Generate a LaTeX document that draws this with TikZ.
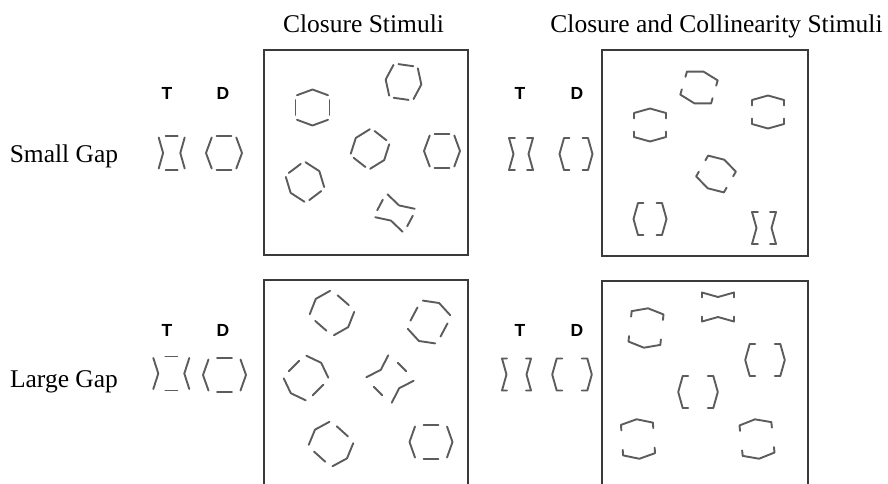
\documentclass[tikz,border=0pt]{standalone}
\usepackage{fontspec}
\setmainfont{Liberation Serif}
\newfontfamily\labelsans{Liberation Sans}

\definecolor{stimgray}{HTML}{5C5C5C}
\definecolor{framegray}{HTML}{3A3A3A}

% closure figure: #1 = x of side ends, #2 = bend of the sides, #3 = half length of top/bottom
\newcommand\closurefig[3]{%
  \draw[stim] (-#3,-17)--(#3,-17);
  \draw[stim] (-#3,17)--(#3,17);
  \draw[stim] (-#1,-15.5)--({-#1-(#2)},0)--(-#1,15.5);
  \draw[stim] (#1,-15.5)--({#1+(#2)},0)--(#1,15.5);
}
% closure + collinearity figure: #1 = corner x, #2 = bend, #3 = serif length
\newcommand\collinfig[3]{%
  \draw[stim] ({-#1+#3},-16)--(-#1,-16)--({-#1-(#2)},0)--(-#1,16)--({-#1+#3},16);
  \draw[stim] ({#1-#3},-16)--(#1,-16)--({#1+(#2)},0)--(#1,16)--({#1-#3},16);
}

\tikzset{
  stim/.style={draw=stimgray, line width=1.9pt, line cap=round, line join=round},
  frame/.style={draw=framegray, line width=1.8pt},
  heading/.style={font=\fontsize{25.5}{28}\selectfont, anchor=base},
  letter/.style={font=\labelsans\bfseries\fontsize{17.5}{19}\selectfont, anchor=base},
  pics/cloTs/.style={code={\closurefig{13}{-4.4}{6}}},
  pics/cloDs/.style={code={\closurefig{12.3}{5.7}{7.5}}},
  pics/cloTl/.style={code={\closurefig{18}{-5}{6}}},
  pics/cloDl/.style={code={\closurefig{16}{5.5}{7.5}}},
  pics/colTs/.style={code={\collinfig{12}{-4.5}{6}}},
  pics/colDs/.style={code={\collinfig{12}{4.5}{5.5}}},
  pics/colTl/.style={code={\collinfig{14.5}{-4.5}{5}}},
  pics/colDl/.style={code={\collinfig{15.3}{4.5}{5.5}}},
}

\begin{document}
\begin{tikzpicture}[x=1pt, y=-1pt]
\useasboundingbox (0,0) rectangle (888,483);

% headings
\node[heading] (hclo) at (363.5,32) {Closure Stimuli};
\node[heading] (hcol) at (716.5,32) {Closure and Collinearity Stimuli};
\node[heading] (lsmall) at (64,162) {Small Gap};
\node[heading] (llarge) at (64,387) {Large Gap};

% target / distractor letters
\node[letter] (t1) at (167,99) {T};
\node[letter] (d1) at (223,99) {D};
\node[letter] (t2) at (520,99) {T};
\node[letter] (d2) at (577,99) {D};
\node[letter] (t3) at (167,336) {T};
\node[letter] (d3) at (223,336) {D};
\node[letter] (t4) at (520,336) {T};
\node[letter] (d4) at (577,336) {D};

% sample figures
\pic at (171.7,153) {cloTs};
\pic at (224,153) {cloDs};
\pic at (521,154) {colTs};
\pic at (576,154) {colDs};
\pic at (171.3,373.5) {cloTl};
\pic at (224.5,375) {cloDl};
\pic at (516.5,374.5) {colTl};
\pic at (572,374.5) {colDl};

% display frames
\draw[frame] (264,50) rectangle (468,255);
\draw[frame] (602,50) rectangle (808,256);
\draw[frame] (264,490) -- (264,280) -- (468,280) -- (468,490);
\draw[frame] (602,490) -- (602,281) -- (808,281) -- (808,490);

% closure display, small gap
\pic[rotate=90] at (312.5,107.5) {cloDs};
\pic[rotate=-8] at (403.5,82) {cloDs};
\pic[rotate=-38] at (370,149) {cloDs};
\pic at (442,151) {cloDs};
\pic[rotate=37] at (305,182) {cloDs};
\pic[rotate=62] at (395,213) {cloTs};

% closure + collinearity display, small gap
\pic[rotate=74] at (699,87.5) {colDs};
\pic[rotate=90] at (650,125) {colDs};
\pic[rotate=90] at (768,112) {colDs};
\pic[rotate=60] at (716,174) {colDs};
\pic at (650,219) {colDs};
\pic at (764,228) {colTs};

% closure display, large gap
\pic[rotate=-41] at (332,313) {cloDl};
\pic[rotate=62] at (429,322) {cloDl};
\pic[rotate=45] at (306,378) {cloDl};
\pic[rotate=-45] at (390,379) {cloTl};
\pic[rotate=-42] at (331,444) {cloDl};
\pic at (431,442) {cloDl};

% closure + collinearity display, large gap
\pic[rotate=84] at (646,328) {colDl};
\pic[rotate=90] at (718,307) {colTl};
\pic at (765,360) {colDl};
\pic at (698,392) {colDl};
\pic[rotate=94] at (638,439) {colDl};
\pic[rotate=96] at (757,439) {colDl};
\end{tikzpicture}
\end{document}
